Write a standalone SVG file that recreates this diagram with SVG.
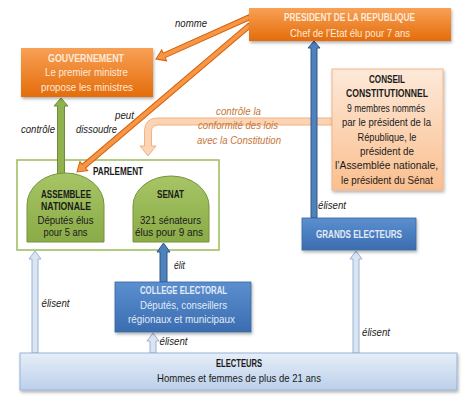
<svg xmlns="http://www.w3.org/2000/svg" width="474" height="402" viewBox="0 0 474 402">
<defs>
<linearGradient id="gOr" x1="0" y1="0" x2="0" y2="1"><stop offset="0" stop-color="#f8a055"/><stop offset="1" stop-color="#e46c0a"/></linearGradient>
<linearGradient id="gPe" x1="0" y1="0" x2="0" y2="1"><stop offset="0" stop-color="#fde9d9"/><stop offset="1" stop-color="#fabf8f"/></linearGradient>
<linearGradient id="gGr" x1="0" y1="0" x2="0" y2="1"><stop offset="0" stop-color="#a7c565"/><stop offset="1" stop-color="#8aab48"/></linearGradient>
<linearGradient id="gBl" x1="0" y1="0" x2="0" y2="1"><stop offset="0" stop-color="#5b8fd0"/><stop offset="1" stop-color="#3b6db0"/></linearGradient>
<linearGradient id="gLb" x1="0" y1="0" x2="0" y2="1"><stop offset="0" stop-color="#e6eef8"/><stop offset="1" stop-color="#bcd0ea"/></linearGradient>
<filter id="sh" x="-10%" y="-10%" width="120%" height="130%"><feDropShadow dx="1" dy="2" stdDeviation="1.5" flood-color="#000" flood-opacity="0.3"/></filter>
</defs>
<style>
text{font-family:"Liberation Sans",Arial,sans-serif;text-anchor:middle}
.t{font-size:10.5px;font-weight:bold}
.b{font-size:10.5px}
.w{fill:#fdeada}
.wb{fill:#e2ebf6}
.k{fill:#1a1a1a}
.lab{font-size:10px;font-style:italic;fill:#222}
.olab{font-size:10.5px;font-style:italic;fill:#c5763a}
.orArr{fill:#f79646;stroke:#d2620c;stroke-width:1}
.grArr{fill:#8fb24f;stroke:#6e8c36;stroke-width:1}
.blArr{fill:#4f81bd;stroke:#2f5687;stroke-width:1}
.lbArr{fill:#dbe5f1;stroke:#95b3d7;stroke-width:1}
</style>
<rect width="474" height="402" fill="#fff"/>

<g id="parlement">
<rect x="17" y="160" width="202" height="90" fill="#fff" stroke="#9bbb59" stroke-width="1.5"/>
<text x="118" y="175" class="t k" textLength="50" lengthAdjust="spacingAndGlyphs">PARLEMENT</text>
</g>

<g id="connectors">
<polygon class="grArr" points="57.5,185 57.5,106 54,106 61,98 68,106 64.5,106 64.5,185"/>
<path class="orArr" transform="translate(250,17) rotate(155.9)" d="M0,-2.5 H94 V-6 L103,0 L94,6 V2.5 H0 Z"/>
<path class="orArr" transform="translate(250,25) rotate(139.65)" d="M0,-2.5 H218 V-6 L227,0 L218,6 V2.5 H0 Z"/>
<path d="M332,118 H158 Q144.5,118 144.5,131.5 V146 H140 L148,156 L156,146 H151.5 V131.5 Q151.5,125 158,125 H332 Z" fill="#fbd4b4" stroke="#f0b185" stroke-width="1"/>
<polygon class="blArr" points="311,218 311,48 308,48 314,41 320,48 317,48 317,218"/>
<polygon class="blArr" points="160,282 160,252 157,252 163.5,243 170,252 167,252 167,282"/>
<polygon class="lbArr" points="32,353 32,259 29,259 35,251 41,259 38,259 38,353"/>
<polygon class="lbArr" points="150,353 150,341 147,341 153,333 159,341 156,341 156,353"/>
<polygon class="lbArr" points="353,353 353,259 350,259 356,251 362,259 359,259 359,353"/>
<text x="191" y="27" class="lab" textLength="32" lengthAdjust="spacingAndGlyphs">nomme</text>
<text x="124.5" y="119" class="lab" textLength="19" lengthAdjust="spacingAndGlyphs">peut</text>
<text x="96.5" y="133" class="lab" textLength="41" lengthAdjust="spacingAndGlyphs">dissoudre</text>
<text x="38" y="133" class="lab" textLength="34" lengthAdjust="spacingAndGlyphs">contrôle</text>
<text x="238.5" y="115" class="olab" textLength="45" lengthAdjust="spacingAndGlyphs">contrôle la</text>
<text x="238" y="129" class="olab" textLength="80" lengthAdjust="spacingAndGlyphs">conformité des lois</text>
<text x="239" y="144" class="olab" textLength="84" lengthAdjust="spacingAndGlyphs">avec la Constitution</text>
<text x="332" y="209" class="lab" textLength="28" lengthAdjust="spacingAndGlyphs">élisent</text>
<text x="179.5" y="269" class="lab" textLength="11" lengthAdjust="spacingAndGlyphs">élit</text>
<text x="55.5" y="307" class="lab" textLength="28" lengthAdjust="spacingAndGlyphs">élisent</text>
<text x="173.5" y="345" class="lab" textLength="28" lengthAdjust="spacingAndGlyphs">élisent</text>
<text x="376" y="336" class="lab" textLength="28" lengthAdjust="spacingAndGlyphs">élisent</text>
</g>

<g id="president">
<rect x="249" y="8" width="202" height="33" fill="url(#gOr)" filter="url(#sh)"/>
<text x="349.5" y="21" class="t w" textLength="131" lengthAdjust="spacingAndGlyphs">PRESIDENT DE LA REPUBLIQUE</text>
<text x="350" y="37" class="b w" textLength="120" lengthAdjust="spacingAndGlyphs">Chef de l’Etat élu pour 7 ans</text>
</g>

<g id="gouvernement">
<rect x="21" y="48" width="132" height="49" fill="url(#gOr)" filter="url(#sh)"/>
<text x="86" y="62" class="t w" textLength="76" lengthAdjust="spacingAndGlyphs">GOUVERNEMENT</text>
<text x="86.5" y="76" class="b w" textLength="83" lengthAdjust="spacingAndGlyphs">Le premier ministre</text>
<text x="87" y="91" class="b w" textLength="92" lengthAdjust="spacingAndGlyphs">propose les ministres</text>
</g>

<g id="conseil">
<rect x="332" y="69" width="111" height="121" fill="url(#gPe)" stroke="#f2b488" stroke-width="1" filter="url(#sh)"/>
<text x="387" y="83" class="t k" textLength="36" lengthAdjust="spacingAndGlyphs">CONSEIL</text>
<text x="387" y="97" class="t k" textLength="82" lengthAdjust="spacingAndGlyphs">CONSTITUTIONNEL</text>
<text x="386" y="112" class="b k" textLength="78" lengthAdjust="spacingAndGlyphs">9 membres nommés</text>
<text x="386.5" y="126" class="b k" textLength="89" lengthAdjust="spacingAndGlyphs">par le président de la</text>
<text x="387" y="141" class="b k" textLength="59" lengthAdjust="spacingAndGlyphs">République, le</text>
<text x="387" y="155" class="b k" textLength="54" lengthAdjust="spacingAndGlyphs">président de</text>
<text x="386.5" y="169" class="b k" textLength="103" lengthAdjust="spacingAndGlyphs">l’Assemblée nationale,</text>
<text x="387" y="184" class="b k" textLength="92" lengthAdjust="spacingAndGlyphs">le président du Sénat</text>
</g>

<g id="assemblee">
<path d="M27,242 V205 A38.5,32 0 0 1 104,205 V242 Z" fill="url(#gGr)" stroke="#76923c" stroke-width="1"/>
<text x="66" y="198" class="t k" textLength="50" lengthAdjust="spacingAndGlyphs">ASSEMBLEE</text>
<text x="66" y="210" class="t k" textLength="50" lengthAdjust="spacingAndGlyphs">NATIONALE</text>
<text x="65.5" y="224" class="b k" textLength="56" lengthAdjust="spacingAndGlyphs">Députés élus</text>
<text x="65.5" y="236" class="b k" textLength="44" lengthAdjust="spacingAndGlyphs">pour 5 ans</text>
</g>

<g id="senat">
<path d="M133,242 V206 A38,30 0 0 1 209,206 V242 Z" fill="url(#gGr)" stroke="#76923c" stroke-width="1"/>
<text x="170.5" y="198" class="t k" textLength="27" lengthAdjust="spacingAndGlyphs">SENAT</text>
<text x="170.5" y="224" class="b k" textLength="61" lengthAdjust="spacingAndGlyphs">321 sénateurs</text>
<text x="169" y="236" class="b k" textLength="68" lengthAdjust="spacingAndGlyphs">élus pour 9 ans</text>
</g>

<g id="grands-electeurs">
<rect x="302" y="218" width="114" height="32" fill="url(#gBl)" stroke="#3a679e" stroke-width="0.8" filter="url(#sh)"/>
<text x="359" y="238" class="t wb" textLength="86" lengthAdjust="spacingAndGlyphs">GRANDS ELECTEURS</text>
</g>

<g id="college">
<rect x="115" y="282" width="136" height="50" fill="url(#gBl)" stroke="#3a679e" stroke-width="0.8" filter="url(#sh)"/>
<text x="183.5" y="294" class="t wb" textLength="87" lengthAdjust="spacingAndGlyphs">COLLEGE ELECTORAL</text>
<text x="183.5" y="309" class="b wb" textLength="87" lengthAdjust="spacingAndGlyphs">Députés, conseillers</text>
<text x="181.5" y="323" class="b wb" textLength="107" lengthAdjust="spacingAndGlyphs">régionaux et municipaux</text>
</g>

<g id="electeurs">
<rect x="20" y="353" width="437" height="37" fill="url(#gLb)" stroke="#95b3d7" stroke-width="1" filter="url(#sh)"/>
<text x="239" y="367" class="t k" textLength="46" lengthAdjust="spacingAndGlyphs">ELECTEURS</text>
<text x="239" y="382" class="b k" textLength="164" lengthAdjust="spacingAndGlyphs">Hommes et femmes de plus de 21 ans</text>
</g>
</svg>
